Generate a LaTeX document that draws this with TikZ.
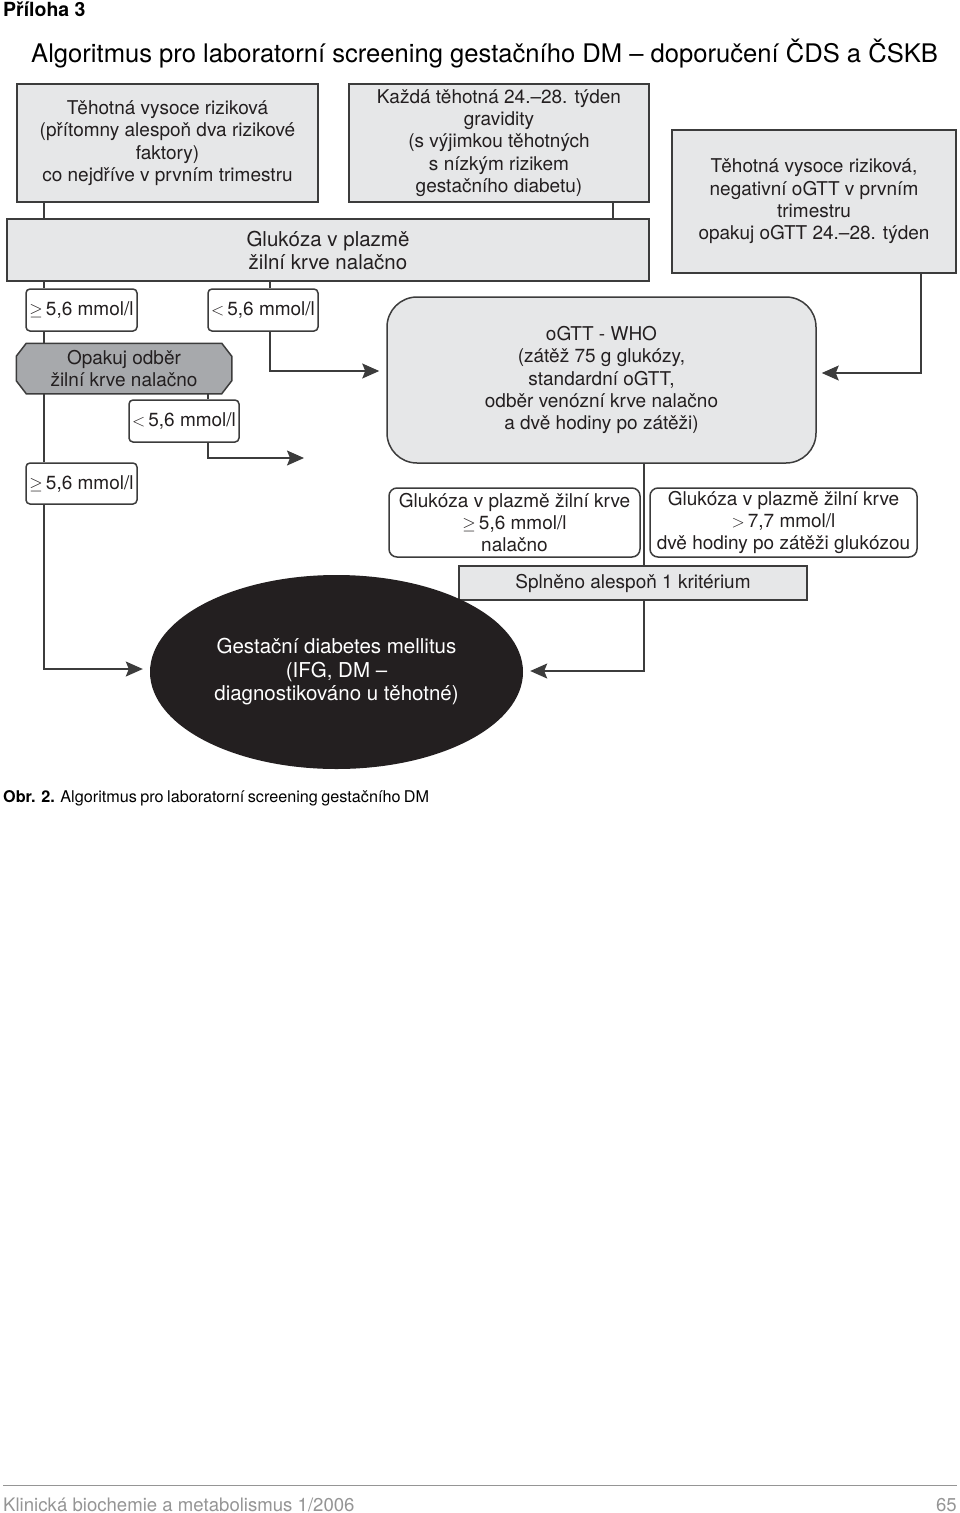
\documentclass[tikz,border=0pt]{standalone}
\usepackage{fontspec}
\setmainfont{TeX Gyre Heros}
\usetikzlibrary{arrows.meta,shapes.geometric,backgrounds}
\definecolor{boxgray}{HTML}{E6E7E8}
\definecolor{hexgray}{HTML}{A7A9AC}
\definecolor{linegray}{HTML}{3C3C3C}
\definecolor{inkblack}{HTML}{231F20}
\definecolor{footgray}{HTML}{959595}
\tikzset{
  box/.style={draw=linegray,line width=1.5pt,fill=boxgray,align=center,inner sep=2pt,
    text=inkblack,font=\fontsize{19}{22.3}\selectfont},
  rbox/.style={box,fill=white,rounded corners=4pt},
  link/.style={draw=linegray,line width=1.4pt},
  arr/.style={link,-{Stealth[length=17pt,width=15pt,inset=3pt]}}
}
\begin{document}
\begin{tikzpicture}[x=1pt,y=-1pt]
  \useasboundingbox (0,0) rectangle (960,1513);

  \node[anchor=base west,inner sep=0,font=\bfseries\fontsize{19.5}{22}\selectfont] (appx) at (3,16) {Příloha 3};
  \node[anchor=base west,inner sep=0,font=\fontsize{25.6}{30}\selectfont] (title) at (31,62)
    {Algoritmus pro laboratorní screening gestačního DM -- doporučení ČDS a ČSKB};

  % columns of the connectors
  \coordinate (lcol) at (44,0);
  \coordinate (mcol) at (270,0);
  \coordinate (scol) at (208,0);
  \coordinate (ecol) at (613,0);
  \coordinate (ccol) at (644,0);
  \coordinate (rcol) at (921,0);
  \coordinate (pend) at (304,458);

  \node[box,minimum width=301pt,minimum height=118pt] (risk) at (167.5,143)
    {Těhotná vysoce riziková\\(přítomny alespoň dva rizikové\\faktory)\\co nejdříve v prvním trimestru};
  \node[box,minimum width=300pt,minimum height=118pt] (every) at (499,143)
    {Každá těhotná 24.--28. týden\\gravidity\\(s výjimkou těhotných\\s nízkým rizikem\\gestačního diabetu)};
  \node[box,font=\fontsize{20.5}{23}\selectfont,minimum width=642pt,minimum height=62pt] (glc) at (328,250)
    {Glukóza v plazmě\\žilní krve nalačno};
  \node[box,minimum width=284pt,minimum height=143pt] (neg) at (814,201.5)
    {Těhotná vysoce riziková,\\negativní oGTT v prvním\\trimestru\\opakuj oGTT 24.--28. týden};

  \node[rbox,minimum width=111pt,minimum height=42pt] (ge1) at (81.5,310) {$\geq$\,5,6 mmol/l};
  \node[rbox,minimum width=110pt,minimum height=42pt] (lt1) at (263,310) {$<$\,5,6 mmol/l};
  \node[box,rounded corners=30pt,minimum width=429pt,minimum height=166pt] (ogtt) at (601.5,380)
    {oGTT - WHO\\(zátěž 75 g glukózy,\\standardní oGTT,\\odběr venózní krve nalačno\\a dvě hodiny po zátěži)};
  \node[box,draw=none,fill=none,minimum width=214pt,minimum height=49pt] (rep) at (124,368.5)
    {Opakuj odběr\\žilní krve nalačno};
  \begin{scope}[on background layer]
    \draw[draw=linegray,line width=1.5pt,fill=hexgray]
      ([xshift=10pt]rep.north west) -- ([xshift=-10pt]rep.north east)
      -- ([yshift=-13pt]rep.north east) -- ([yshift=13pt]rep.south east)
      -- ([xshift=-10pt]rep.south east) -- ([xshift=10pt]rep.south west)
      -- ([yshift=13pt]rep.south west) -- ([yshift=-13pt]rep.north west) -- cycle;
  \end{scope}
  \node[rbox,minimum width=110pt,minimum height=42pt] (lt2) at (184,421) {$<$\,5,6 mmol/l};
  \node[rbox,minimum width=111pt,minimum height=41pt] (ge2) at (81.5,483.5) {$\geq$\,5,6 mmol/l};

  \node[rbox,rounded corners=8pt,minimum width=251pt,minimum height=69pt] (crita) at (514.5,522.5)
    {Glukóza v plazmě žilní krve\\$\geq$\,5,6 mmol/l\\nalačno};
  \node[rbox,rounded corners=8pt,minimum width=267pt,minimum height=69pt] (critb) at (783.5,522.5)
    {Glukóza v plazmě žilní krve\\$>$\,7,7 mmol/l\\dvě hodiny po zátěži glukózou};
  \node[box,minimum width=348pt,minimum height=34pt] (met) at (633,583) {Splněno alespoň 1 kritérium};

  \node[ellipse,fill=inkblack,text=white,align=center,font=\fontsize{20.5}{23.5}\selectfont,
    minimum width=373pt,minimum height=194pt] (gdm) at (336.5,672)
    {Gestační diabetes mellitus\\(IFG, DM --\\diagnostikováno u těhotné)};

  \draw[link] (risk.south -| lcol) -- (glc.north -| lcol);
  \draw[link] (every.south -| ecol) -- (glc.north -| ecol);
  \draw[link] (glc.south -| lcol) -- (ge1.north -| lcol);
  \draw[link] (glc.south -| mcol) -- (lt1.north -| mcol);
  \draw[arr] (lt1.south -| mcol) |- ([xshift=-7pt,yshift=9pt]ogtt.west);
  \draw[arr] (neg.south -| rcol) |- ([xshift=5pt,yshift=7pt]ogtt.east);
  \draw[link] (ge1.south -| lcol) -- (rep.north -| lcol);
  \draw[link] (rep.south -| scol) -- (lt2.north -| scol);
  \draw[arr] (lt2.south -| scol) |- (pend);
  \draw[link] (rep.south -| lcol) -- (ge2.north -| lcol);
  \draw[arr] (ge2.south -| lcol) |- ([xshift=-7pt,yshift=3pt]gdm.west);
  \draw[link] (ogtt.south -| ccol) -- (met.north -| ccol);
  \draw[arr] (met.south -| ccol) |- ([xshift=7pt,yshift=1pt]gdm.east);

  \node[anchor=base west,inner sep=0,font=\fontsize{16.2}{19}\selectfont] (cap) at (3,802)
    {\makebox[426pt][s]{\textbf{Obr. 2.} Algoritmus pro laboratorní screening gestačního DM}};

  \draw[footgray,line width=1pt] (3,1485) -- (957,1485);
  \node[anchor=base west,inner sep=0,text=footgray,font=\fontsize{18.6}{22}\selectfont] (journal) at (3,1511)
    {Klinická biochemie a metabolismus 1/2006};
  \node[anchor=base east,inner sep=0,text=footgray,font=\fontsize{18.6}{22}\selectfont] (page) at (957,1511) {65};
\end{tikzpicture}
\end{document}
